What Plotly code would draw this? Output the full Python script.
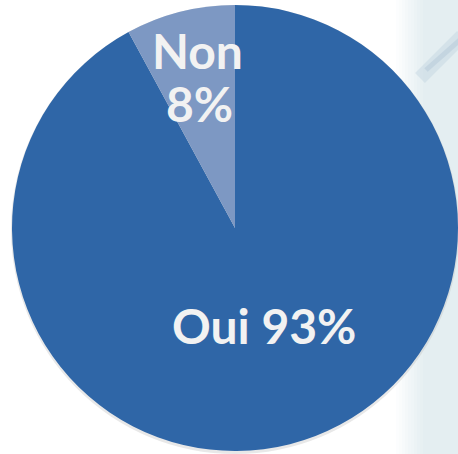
import plotly.graph_objects as go

# Data
labels = ["Oui", "Non"]
values = [93, 8]
pct_text = ["93%", "8%"]
colors = ["#2F66A7", "#7D98C3"]

W, H = 458, 454

fig = go.Figure()

fig.add_trace(
    go.Pie(
        labels=labels,
        values=values,
        sort=False,
        direction="clockwise",
        rotation=0,
        marker=dict(colors=colors, line=dict(width=0)),
        textinfo="none",
        hoverinfo="label+percent",
        domain=dict(x=[12 / W, 1.0], y=[3 / H, 449 / H]),
        showlegend=False,
    )
)

# pale backdrop on the right edge (faded photo in the original)
for i in range(10):
    x0 = 396 + i * 3
    a = (i + 1) / 10
    fig.add_shape(type="rect", xref="paper", yref="paper",
                  x0=x0 / W, x1=(x0 + 3 if i < 9 else W) / W, y0=0, y1=1,
                  fillcolor=f"rgba(228,238,241,{a})", line=dict(width=0), layer="below")
# blurred streak top right
fig.add_shape(type="line", xref="paper", yref="paper",
              x0=420 / W, y0=1 - 78 / H, x1=462 / W, y1=1 - 36 / H,
              line=dict(color="rgba(175,198,214,0.3)", width=14), layer="below")
fig.add_shape(type="line", xref="paper", yref="paper",
              x0=426 / W, y0=1 - 70 / H, x1=462 / W, y1=1 - 38 / H,
              line=dict(color="rgba(165,190,208,0.35)", width=5), layer="below")
# soft shadow around the pie
fig.add_shape(type="circle", xref="paper", yref="paper",
              x0=11 / W, x1=459 / W, y0=1 - 454 / H, y1=1 - 5 / H,
              fillcolor="rgba(190,190,190,0.35)", line=dict(width=0), layer="below")

# Labels
font = dict(family="Lato", size=48, color="#F2F2F2")
label_pos = [(197, 51, f"<b>{labels[1]}</b>"),
             (199, 103, f"<b>{pct_text[1]}</b>"),
             (264, 325, f"<b>{labels[0]} {pct_text[0]}</b>")]
for x, y, t in label_pos:
    fig.add_annotation(text=t, xref="paper", yref="paper",
                       x=x / W, y=1 - y / H, xanchor="center", yanchor="middle",
                       showarrow=False, font=font)

fig.update_layout(
    width=W, height=H,
    margin=dict(l=0, r=0, t=0, b=0),
    paper_bgcolor="white",
    plot_bgcolor="white",
)

fig.write_html("out.html", config={"displayModeBar": False},
               post_script="document.body.style.margin='0px';")
